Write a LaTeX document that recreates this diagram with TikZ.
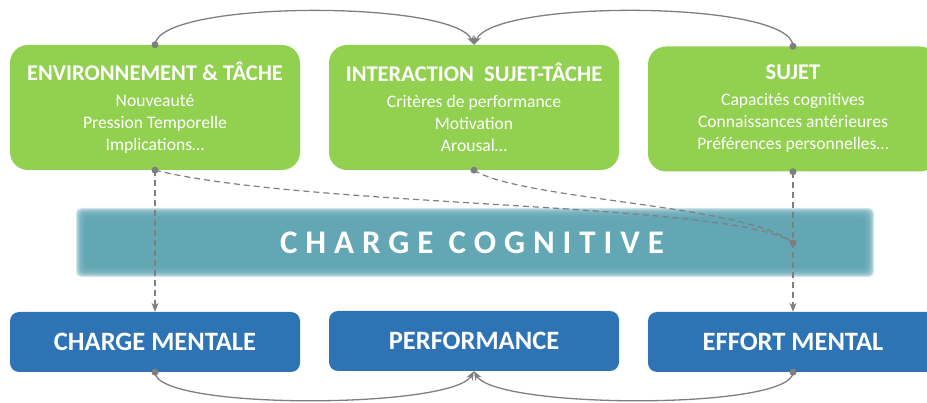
\documentclass[tikz,border=0pt]{standalone}
\usepackage{fontspec}
\setmainfont{Carlito}
\usetikzlibrary{arrows.meta}
\definecolor{vert}{RGB}{146,208,80}
\definecolor{bleu}{RGB}{46,116,181}
\definecolor{sarcelle}{RGB}{99,167,181}
\definecolor{gris}{RGB}{127,127,127}
\newcommand{\titreboite}{\fontsize{22.5}{26}\selectfont\bfseries}

\begin{document}
\begin{tikzpicture}[x=1pt, y=-1pt,
		haut/.style={fill=vert, rounded corners=18pt, minimum width=290pt, minimum height=125pt, text=white, align=center, font=\fontsize{17.6}{22}\selectfont, inner sep=0pt},
		bas/.style={fill=bleu, rounded corners=9pt, minimum width=290pt, minimum height=60pt, text=white, font=\fontsize{26.5}{30}\selectfont\bfseries, inner sep=0pt},
		lien/.style={gris, line width=1.3pt, -{Stealth[length=9pt,width=7pt]}},
		pointille/.style={lien, dash pattern=on 6pt off 4pt, line width=1.2pt}]
	\useasboundingbox (0,0) rectangle (927,403);
	% bande centrale floue
	\foreach \d in {-4,...,4}
		\fill [sarcelle, opacity=0.3, rounded corners=5pt] (80-\d, 212-\d) rectangle (870+\d, 273+\d);
	\fill [sarcelle] (85, 217) rectangle (865, 268);
	\node (charge) at (472, 243) {\addfontfeature{LetterSpace=24}\color{white}\fontsize{33}{36}\selectfont\bfseries CHARGE COGNITIVE};
	% boites du haut
	\node [haut] (env) at (155, 107.5) {{\titreboite ENVIRONNEMENT \& TÂCHE}\\[4pt] Nouveauté\\ Pression Temporelle\\ Implications\dots};
	\node [haut] (inter) at (474, 107.5) {{\titreboite INTERACTION\ \ SUJET-TÂCHE}\\[4pt] Critères de performance\\ Motivation\\ Arousal\dots};
	\node [haut] (sujet) at (793, 109) {{\titreboite SUJET}\\[4pt] Capacités cognitives\\ Connaissances antérieures\\ Préférences personnelles\dots};
	% boites du bas
	\node [bas] (mentale) at (155, 342) {CHARGE MENTALE};
	\node [bas] (perf) at (474, 341) {PERFORMANCE};
	\node [bas] (effort) at (793, 342) {EFFORT MENTAL};
	\coordinate (hub) at (sujet.south |- charge.center);
	% liens
	\draw [lien] (env.north) .. controls +(3,-45) and +(-20,-45) .. (inter.north);
	\draw [lien] (sujet.north) .. controls +(0,-46) and +(20,-46) .. (inter.north);
	\draw [lien] (mentale.south) .. controls +(0,38) and +(-22,38) .. (perf.south);
	\draw [lien] (effort.south) .. controls +(0,38) and +(22,38) .. (perf.south);
	\draw [pointille] (env.south) -- (mentale.north);
	\draw [pointille] (sujet.south) -- (effort.north);
	\draw [pointille, -] (env.south) .. controls +(155,38) and +(-53,-41) .. (hub);
	\draw [pointille, -] (inter.south) .. controls +(47,30) and +(-43,-38) .. (hub);
	% points
	\foreach \p in {env.north, sujet.north, mentale.south, effort.south, env.south, inter.south, sujet.south, hub}
		\fill [gris] (\p) circle (3.5pt);
\end{tikzpicture}
\end{document}
